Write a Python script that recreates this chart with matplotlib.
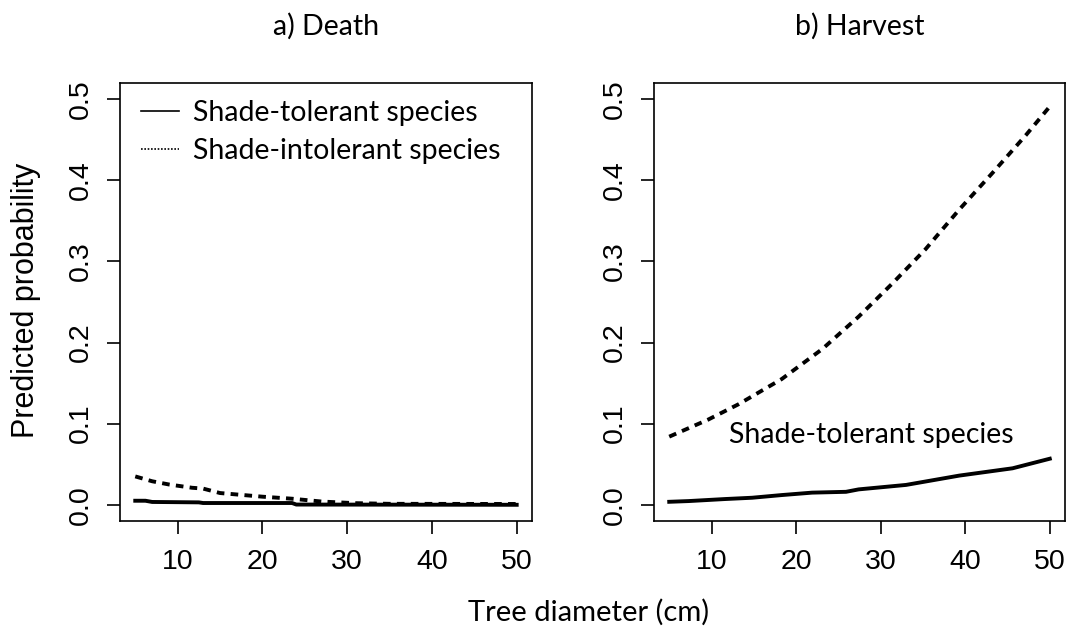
import matplotlib
matplotlib.use("Agg")
import matplotlib.pyplot as plt
from matplotlib.lines import Line2D

# values
death_tol_x = [5, 6.2, 7, 12.5, 13, 23.5, 24, 50]
death_tol_y = [0.005, 0.005, 0.0035, 0.003, 0.0022, 0.0022, 0.0003, 0.0]
death_int_x = [5, 7, 9, 11.7, 13, 15, 20, 23.5, 25, 27, 31, 35, 50]
death_int_y = [0.035, 0.029, 0.025, 0.021, 0.020, 0.0145, 0.010, 0.0075,
               0.006, 0.004, 0.002, 0.0012, 0.001]
harv_int_x = [5, 9.6, 13.2, 18.3, 23.1, 27.4, 31.4, 35.3, 39.3, 43.3, 47.2, 50]
harv_int_y = [0.084, 0.105, 0.124, 0.155, 0.192, 0.232, 0.273, 0.315,
              0.364, 0.410, 0.456, 0.491]
harv_tol_x = [5, 7.3, 11.6, 14.8, 18.3, 21.9, 25.9, 27.4, 33, 39.3, 45.6, 50]
harv_tol_y = [0.0037, 0.0046, 0.0071, 0.0087, 0.012, 0.015, 0.016, 0.019,
              0.0245, 0.036, 0.045, 0.0568]

titles = ["a) Death", "b) Harvest"]
x_ticks = [10, 20, 30, 40, 50]
y_ticks = [0.0, 0.1, 0.2, 0.3, 0.4, 0.5]
legend_labels = ["Shade-tolerant species", "Shade-intolerant species"]

plt.rcParams['lines.scale_dashes'] = False
label_font = "Lato"
tick_font = "Liberation Sans"

fig = plt.figure(figsize=(10.81, 6.33), dpi=100)
ax_a = fig.add_axes([0.1110, 0.1769, 0.3811, 0.692])
ax_b = fig.add_axes([0.6050, 0.1769, 0.3802, 0.692])

lw = 2.8
dash = (0, (5.5, 4.5))

ax_a.plot(death_tol_x, death_tol_y, color="black", lw=lw)
ax_a.plot(death_int_x, death_int_y, color="black", lw=lw, linestyle=dash)
ax_b.plot(harv_int_x, harv_int_y, color="black", lw=lw, linestyle=dash)
ax_b.plot(harv_tol_x, harv_tol_y, color="black", lw=lw)

for ax, title in zip([ax_a, ax_b], titles):
    ax.set_xlim(3.2, 51.8)
    ax.set_ylim(-0.02, 0.52)
    ax.set_xticks(x_ticks)
    ax.set_yticks(y_ticks)
    ax.set_yticklabels(["%.1f" % v for v in y_ticks], rotation=90, va="center")
    ax.tick_params(axis="both", length=9.5, width=1.2, labelsize=20.5,
                   direction="out")
    ax.tick_params(axis="x", pad=11)
    ax.tick_params(axis="y", pad=9)
    for lab in ax.get_xticklabels() + ax.get_yticklabels():
        lab.set_fontfamily(tick_font)
    for sp in ax.spines.values():
        sp.set_linewidth(1.2)
    ax.text(0.5, 1.13, title, transform=ax.transAxes, family=label_font,
            fontsize=20.5, ha="center", va="center")

handles = [Line2D([], [], color="black", lw=1.2),
           Line2D([], [], color="black", lw=1.2, linestyle=(0, (1.2, 1.2)))]
ax_a.legend(handles, legend_labels, loc="upper left",
            bbox_to_anchor=(0.051, 0.962), frameon=False,
            prop={"family": label_font, "size": 20.5},
            handlelength=1.33, handletextpad=0.49, labelspacing=0.42,
            borderpad=0, borderaxespad=0)

ax_b.text(12.1, 0.086, "Shade-tolerant species", family=label_font,
          fontsize=20.5, va="center", ha="left")

fig.text(0.544, 0.032, "Tree diameter (cm)", family=label_font, fontsize=21,
         ha="center", va="center")
fig.text(0.024, 0.526, "Predicted probability", family=tick_font, fontsize=22,
         rotation=90, ha="center", va="center")

fig.savefig("out.png", dpi=100)
